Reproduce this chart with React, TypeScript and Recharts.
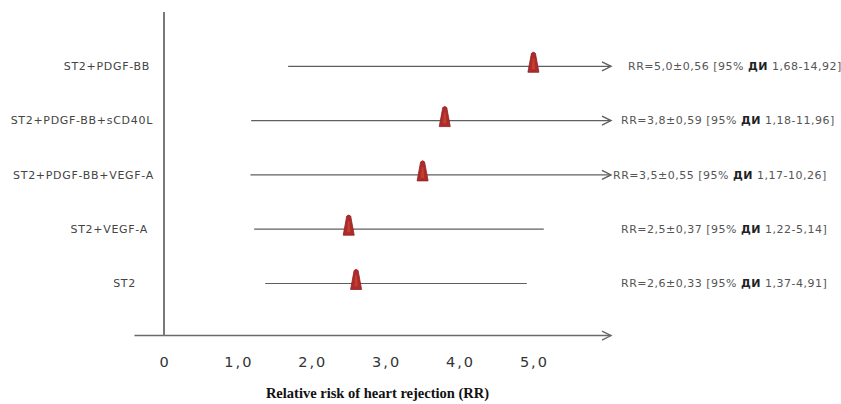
import React from 'react';
import { ComposedChart, Scatter, XAxis, YAxis, ReferenceLine } from 'recharts';

// ---- data ----
const categories = ['ST2+PDGF-BB', 'ST2+PDGF-BB+sCD40L', 'ST2+PDGF-BB+VEGF-A', 'ST2+VEGF-A', 'ST2'];
const rowPositions = [5, 4, 3, 2, 1];
const rrValues = [5.0, 3.8, 3.5, 2.5, 2.6];
const rrErrors = [0.56, 0.59, 0.55, 0.37, 0.33];
const ciLower = [1.68, 1.18, 1.17, 1.22, 1.37];
const ciUpper = [14.92, 11.96, 10.26, 5.14, 4.91];
const xTicks = [0, 1, 2, 3, 4, 5];
const axisTitle = 'Relative risk of heart rejection (RR)';

// ---- layout / style constants ----
const X_MIN = 0;
const X_MAX = 6.05;
const X_AXIS_START = -0.4;
const Y_MIN = 0.04;
const Y_MAX = 6;
const leftLabelDx = [-2, 1, 2, -4, -16];
const rightLabelDx = [7, 0, -8, 0, 0];
const FONT = '"DejaVu Sans", Verdana, sans-serif';

const comma = (v: number, d: number) => v.toFixed(d).replace('.', ',');
const fmtTick = (v: number) => (v === 0 ? '0' : comma(v, 1));

const markerData = rowPositions.map((y, i) => ({ x: rrValues[i], y }));

const LeftTick = (props: any) => {
  const { x, y, payload } = props;
  const i = rowPositions.indexOf(payload.value);
  if (i < 0) return null;
  return (
    <text
      x={x + leftLabelDx[i]}
      y={y}
      dy="0.35em"
      textAnchor="end"
      fontFamily={FONT}
      fontSize={11}
      letterSpacing={0.7}
      fill="#444"
    >
      {categories[i]}
    </text>
  );
};

const RightTick = (props: any) => {
  const { x, y, payload } = props;
  const i = rowPositions.indexOf(payload.value);
  if (i < 0) return null;
  return (
    <text
      x={x + rightLabelDx[i]}
      y={y}
      dy="0.35em"
      textAnchor="start"
      fontFamily={FONT}
      fontSize={11}
      letterSpacing={0.5}
      fill="#555"
    >
      {`RR=${comma(rrValues[i], 1)}±${comma(rrErrors[i], 2)} [95% `}
      <tspan fontWeight="bold" fill="#222">ДИ</tspan>
      {` ${comma(ciLower[i], 2)}-${comma(ciUpper[i], 2)}]`}
    </text>
  );
};

const XTick = (props: any) => {
  const { x, y, payload } = props;
  return (
    <text
      x={x + 1}
      y={y + 31}
      textAnchor="middle"
      fontFamily={FONT}
      fontSize={14.5}
      letterSpacing={2}
      fill="#333"
    >
      {fmtTick(payload.value)}
    </text>
  );
};

const ArrowLine = (props: any) => {
  const { x1, y1, x2, y2, arrow, color, width } = props;
  return (
    <g>
      <line x1={x1} y1={y1} x2={x2} y2={y2} stroke={color} strokeWidth={width} />
      {arrow ? (
        <polyline
          points={`${x2 - 9},${y2 - 4.5} ${x2},${y2} ${x2 - 9},${y2 + 4.5}`}
          fill="none"
          stroke={color}
          strokeWidth={1.4}
        />
      ) : null}
    </g>
  );
};

const Cone = (props: any) => {
  const { cx, cy } = props;
  if (cx == null || cy == null) return null;
  const top = cy - 14;
  const bot = cy + 6;
  return (
    <g>
      <path
        d={`M${cx - 2},${top + 1} Q${cx},${top - 1.2} ${cx + 2},${top + 1} L${cx + 5.5},${bot} L${cx - 5.5},${bot} Z`}
        fill="#b02a2c"
        stroke="#8e1f22"
        strokeWidth={0.8}
      />
      <path
        d={`M${cx - 0.8},${top + 6} L${cx + 0.8},${top + 6} L${cx + 1.6},${bot - 3} L${cx - 1.6},${bot - 3} Z`}
        fill="#c9542e"
        opacity={0.6}
      />
    </g>
  );
};

export default function App() {
  return (
    <div style={{ position: 'absolute', left: 0, top: 0, background: '#fff' }}>
      <ComposedChart
        width={841}
        height={404}
        margin={{ top: 12, right: 0, bottom: 0, left: 0 }}
        data={markerData}
      >
        <XAxis
          type="number"
          dataKey="x"
          domain={[X_MIN, X_MAX]}
          ticks={xTicks}
          allowDataOverflow
          axisLine={false}
          tickLine={false}
          tickSize={0}
          tickMargin={0}
          height={68.4}
          tick={<XTick />}
          interval={0}
          label={{
            value: axisTitle,
            position: 'insideBottom',
            offset: 6,
            dx: -10,
            style: {
              fontFamily: '"Liberation Serif", "Times New Roman", serif',
              fontWeight: 'bold',
              fontSize: 14.5,
              fill: '#111',
            },
          }}
        />
        <YAxis
          type="number"
          dataKey="y"
          domain={[Y_MIN, Y_MAX]}
          ticks={rowPositions}
          allowDataOverflow
          width={164}
          tickSize={0}
          tickMargin={12}
          tickLine={false}
          axisLine={{ stroke: '#7a7a7a', strokeWidth: 2 }}
          tick={<LeftTick />}
          interval={0}
        />
        <YAxis
          yAxisId="r"
          orientation="right"
          type="number"
          domain={[Y_MIN, Y_MAX]}
          ticks={rowPositions}
          allowDataOverflow
          width={230}
          tickSize={0}
          tickMargin={10}
          tickLine={false}
          axisLine={false}
          tick={<RightTick />}
          interval={0}
        />
        <ReferenceLine
          segment={[
            { x: X_AXIS_START, y: Y_MIN },
            { x: X_MAX, y: Y_MIN },
          ]}
          ifOverflow="visible"
          shape={(p: any) => <ArrowLine {...p} arrow color="#6a6a6a" width={1.5} />}
        />
        {rowPositions.map((y, i) => (
          <ReferenceLine
            key={categories[i]}
            segment={[
              { x: ciLower[i], y },
              { x: Math.min(ciUpper[i], X_MAX), y },
            ]}
            ifOverflow="visible"
            shape={(p: any) => (
              <ArrowLine {...p} arrow={ciUpper[i] > X_MAX} color="#5f5f5f" width={1.2} />
            )}
          />
        ))}
        <Scatter data={markerData} dataKey="y" shape={<Cone />} isAnimationActive={false} />
      </ComposedChart>
    </div>
  );
}
